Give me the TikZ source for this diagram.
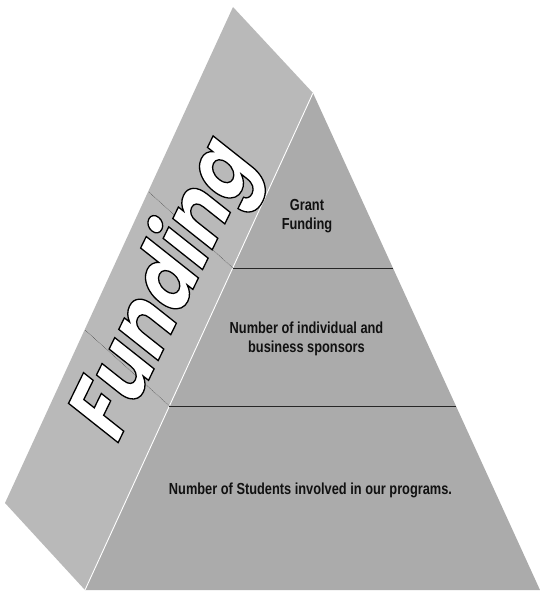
\documentclass[tikz,border=0pt]{standalone}
\usepackage{fontspec}
\newfontfamily\labfont[FakeStretch=0.8]{Liberation Sans}
\newfontfamily\funfont[FakeSlant=0.22,FakeStretch=0.85]{Poppins}
\newcommand\outlinetext[1]{\special{pdf:literal direct 2 Tr 1.3 w 0 0 0 RG}#1\special{pdf:literal direct 0 Tr}}
\definecolor{sideface}{HTML}{B9B9B9}
\definecolor{frontface}{HTML}{ABABAB}
\definecolor{labink}{HTML}{111111}
\tikzset{
  tierline/.style={draw=black!85, line width=0.9pt},
  hidline/.style={draw=black!80, densely dotted, line width=0.5pt},
  tierlabel/.style={font=\labfont\bfseries\fontsize{16}{19}\selectfont, text=labink, align=center, inner sep=0pt}
}
\begin{document}
\begin{tikzpicture}[x=1pt,y=-1pt]
\useasboundingbox (0,0) rectangle (540,594);
% corners
\coordinate (st) at (233,7);
\coordinate (ap) at (313,93);
\coordinate (bl) at (85,590);
\coordinate (br) at (540,590);
\coordinate (sl) at (5,503);
% faces
\fill[sideface] (st) -- (ap) -- (bl) -- (sl) -- cycle;
\fill[frontface] (ap) -- (br) -- (bl) -- cycle;
\draw[white, line width=0.9pt] (ap) -- (bl);
% tier boundaries
\coordinate (l1) at (232.7,268);
\coordinate (r1) at (393,268);
\coordinate (l2) at (169.4,406);
\coordinate (r2) at (456,406);
\coordinate (d1) at (149,192);
\coordinate (d2) at (85,330);
\draw[tierline] (l1) -- (r1);
\draw[tierline] (l2) -- (r2);
\draw[hidline] (l1) -- (d1);
\draw[hidline] (l2) -- (d2);
% labels
\node[tierlabel] (t1) at (307,216.5) {Grant\\Funding};
\node[tierlabel] (t2) at (306.5,339) {Number of individual and\\business sponsors};
\node[tierlabel] (t3) at (310.5,490) {Number of Students involved in our programs.};
% side title
\node[rotate=64, anchor=base west, inner sep=0pt, text=white,
      font=\funfont\bfseries\fontsize{88}{88}\selectfont] (fund) at (116,447) {\outlinetext{Funding}};
\end{tikzpicture}
\end{document}
